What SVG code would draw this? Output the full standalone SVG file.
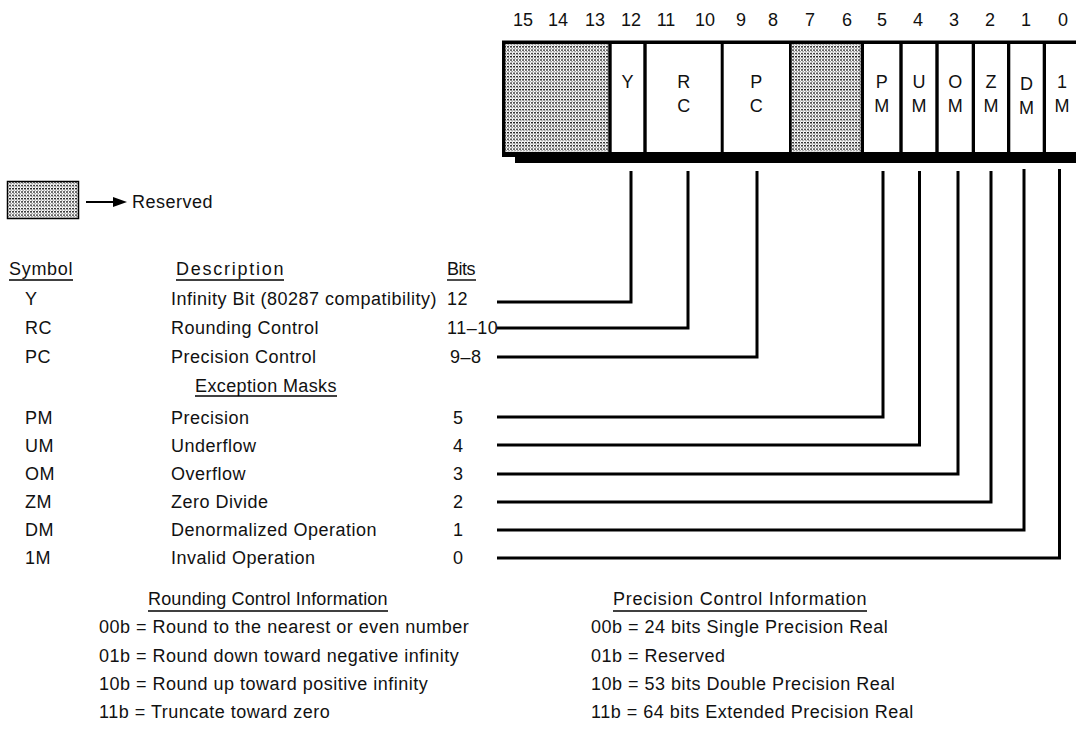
<svg xmlns="http://www.w3.org/2000/svg" width="1076" height="737" viewBox="0 0 1076 737">
<defs>
<pattern id="dots" width="3" height="3.3" patternUnits="userSpaceOnUse">
<rect width="3" height="3.3" fill="#fff"/>
<rect x="0" y="0" width="2" height="1.3" fill="#222"/>
<rect x="1.5" y="1.7" width="1.2" height="1" fill="#666"/>
</pattern>
<marker id="arrow" viewBox="0 0 14 10" refX="0" refY="5" markerWidth="14" markerHeight="10" markerUnits="userSpaceOnUse" orient="auto">
<path d="M0,0 L14,5 L0,10 z" fill="#000"/>
</marker>
</defs>
<style>
text{font-family:"Liberation Sans",Arial,sans-serif;font-size:18px;fill:#111;letter-spacing:0.5px}
.c{text-anchor:middle;letter-spacing:0}
.n{text-anchor:middle;letter-spacing:0}
.conn{fill:none;stroke:#000;stroke-width:3}
.ul{stroke:#000;stroke-width:1.4}
.cell{fill:#fff}
.res{fill:url(#dots)}
</style>
<rect width="1076" height="737" fill="#fff"/>

<g id="bit-numbers">
<text class="n" x="523" y="26">15</text>
<text class="n" x="558" y="26">14</text>
<text class="n" x="595" y="26">13</text>
<text class="n" x="631" y="26">12</text>
<text class="n" x="666" y="26">11</text>
<text class="n" x="705" y="26">10</text>
<text class="n" x="741" y="26">9</text>
<text class="n" x="773" y="26">8</text>
<text class="n" x="810" y="26">7</text>
<text class="n" x="847" y="26">6</text>
<text class="n" x="882" y="26">5</text>
<text class="n" x="918" y="26">4</text>
<text class="n" x="954" y="26">3</text>
<text class="n" x="990" y="26">2</text>
<text class="n" x="1026" y="26">1</text>
<text class="n" x="1063" y="26">0</text>
</g>

<g id="register">
<rect x="502" y="40.5" width="600" height="116.5" fill="#000"/>
<rect x="515" y="152" width="600" height="11" fill="#000"/>
<g id="field-reserved-15-13"><rect class="res" x="505.3" y="44" width="103" height="108"/></g>
<g id="field-Y"><rect class="cell" x="611.7" y="44" width="31.6" height="108"/><text class="c" x="627.5" y="88">Y</text></g>
<g id="field-RC"><rect class="cell" x="646.7" y="44" width="74" height="108"/><text class="c" x="683.7" y="88">R</text><text class="c" x="683.7" y="112">C</text></g>
<g id="field-PC"><rect class="cell" x="723.7" y="44" width="65.3" height="108"/><text class="c" x="756.3" y="88">P</text><text class="c" x="756.3" y="112">C</text></g>
<g id="field-reserved-7-6"><rect class="res" x="791.7" y="44" width="69" height="108"/></g>
<g id="field-PM"><rect class="cell" x="864" y="44" width="35.3" height="108"/><text class="c" x="881.7" y="88">P</text><text class="c" x="881.7" y="112">M</text></g>
<g id="field-UM"><rect class="cell" x="902.7" y="44" width="32.6" height="108"/><text class="c" x="919" y="88">U</text><text class="c" x="919" y="112">M</text></g>
<g id="field-OM"><rect class="cell" x="938.7" y="44" width="33" height="108"/><text class="c" x="955.2" y="88">O</text><text class="c" x="955.2" y="112">M</text></g>
<g id="field-ZM"><rect class="cell" x="975" y="44" width="32" height="108"/><text class="c" x="991" y="88">Z</text><text class="c" x="991" y="112">M</text></g>
<g id="field-DM"><rect class="cell" x="1010.3" y="44" width="32.4" height="108"/><text class="c" x="1026.5" y="90">D</text><text class="c" x="1026.5" y="114">M</text></g>
<g id="field-IM"><rect class="cell" x="1046" y="44" width="40" height="108"/><text class="c" x="1062" y="88">1</text><text class="c" x="1062" y="112">M</text></g>
</g>

<g id="connectors">
<path class="conn" d="M497,302 H631 V171"/>
<path class="conn" d="M497,328 H688 V171"/>
<path class="conn" d="M497,357 H757 V171"/>
<path class="conn" d="M497,417 H883 V171"/>
<path class="conn" d="M497,445 H919.5 V171"/>
<path class="conn" d="M497,474 H958 V171"/>
<path class="conn" d="M497,502 H991 V171"/>
<path class="conn" d="M497,530 H1024 V169"/>
<path class="conn" d="M497,558 H1059.5 V169"/>
</g>

<g id="legend">
<rect x="7.5" y="181.5" width="71" height="37" fill="url(#dots)" stroke="#000" stroke-width="1.5"/>
<line x1="86" y1="202" x2="113" y2="202" stroke="#000" stroke-width="2" marker-end="url(#arrow)"/>
<text x="132" y="208">Reserved</text>
</g>

<g id="table">
<text x="9" y="275" textLength="64">Symbol</text><line class="ul" x1="9" y1="280" x2="73" y2="280"/>
<text x="176" y="275" textLength="108">Description</text><line class="ul" x1="176" y1="280" x2="284" y2="280"/>
<text x="447" y="275" textLength="29">Bits</text><line class="ul" x1="447" y1="280" x2="476" y2="280"/>

<text x="25" y="305">Y</text><text x="171" y="305">Infinity Bit (80287 compatibility)</text><text x="447" y="305">12</text>
<text x="25" y="334">RC</text><text x="171" y="334">Rounding Control</text><text x="447" y="334">11–10</text>
<text x="25" y="363">PC</text><text x="171" y="363">Precision Control</text><text x="450" y="363">9–8</text>
<text x="195" y="392" textLength="142">Exception Masks</text><line class="ul" x1="195" y1="396" x2="337" y2="396"/>
<text x="25" y="424">PM</text><text x="171" y="424">Precision</text><text class="n" x="458" y="424">5</text>
<text x="25" y="452">UM</text><text x="171" y="452">Underflow</text><text class="n" x="458" y="452">4</text>
<text x="25" y="480">OM</text><text x="171" y="480">Overflow</text><text class="n" x="458" y="480">3</text>
<text x="25" y="508">ZM</text><text x="171" y="508">Zero Divide</text><text class="n" x="458" y="508">2</text>
<text x="25" y="536">DM</text><text x="171" y="536">Denormalized Operation</text><text class="n" x="458" y="536">1</text>
<text x="25" y="564">1M</text><text x="171" y="564">Invalid Operation</text><text class="n" x="458" y="564">0</text>
</g>

<g id="rounding-info">
<text x="148" y="605" textLength="240">Rounding Control Information</text><line class="ul" x1="148" y1="611" x2="388" y2="611"/>
<text x="99" y="633">00b = Round to the nearest or even number</text>
<text x="99" y="662">01b = Round down toward negative infinity</text>
<text x="99" y="690">10b = Round up toward positive infinity</text>
<text x="99" y="718">11b = Truncate toward zero</text>
</g>

<g id="precision-info">
<text x="613" y="605" textLength="254">Precision Control Information</text><line class="ul" x1="613" y1="611" x2="867" y2="611"/>
<text x="591" y="633">00b = 24 bits Single Precision Real</text>
<text x="591" y="662">01b = Reserved</text>
<text x="591" y="690">10b = 53 bits Double Precision Real</text>
<text x="591" y="718">11b = 64 bits Extended Precision Real</text>
</g>
</svg>
